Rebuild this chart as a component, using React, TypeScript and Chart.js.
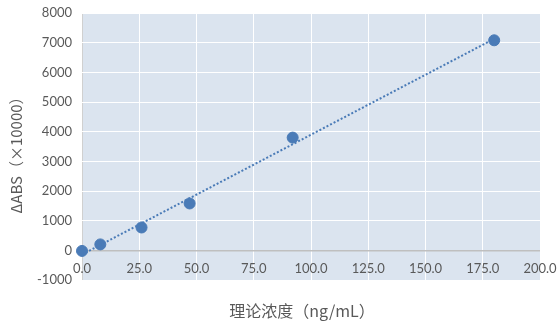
import React, { useEffect, useRef } from "react";
import { Chart, registerables } from "chart.js";
Chart.register(...registerables);

const concentrations = [0, 8, 26, 47, 92, 180];
const absValues = [-20, 200, 770, 1580, 3800, 7080];
const xTitle = "理论浓度（ng/mL）";
const yTitle = "ΔABS（×10000）";

function regression(xs: number[], ys: number[]) {
  const n = xs.length;
  const mx = xs.reduce((a, b) => a + b, 0) / n;
  const my = ys.reduce((a, b) => a + b, 0) / n;
  let sxy = 0, sxx = 0;
  for (let i = 0; i < n; i++) {
    sxy += (xs[i] - mx) * (ys[i] - my);
    sxx += (xs[i] - mx) * (xs[i] - mx);
  }
  const slope = sxy / sxx;
  return { slope, intercept: my - slope * mx };
}

export default function App() {
  const ref = useRef<HTMLCanvasElement>(null);
  useEffect(() => {
    document.body.style.margin = "0";
    const { slope, intercept } = regression(concentrations, absValues);
    const x0 = Math.min(...concentrations);
    const x1 = Math.max(...concentrations);
    const blue = "#4a7bb7";
    const bgPlugin = {
      id: "bg",
      beforeDraw(chart: any) {
        const { ctx, chartArea } = chart;
        ctx.save();
        ctx.fillStyle = "#dbe4ef";
        ctx.fillRect(chartArea.left, chartArea.top, chartArea.right - chartArea.left, chartArea.bottom - chartArea.top);
        ctx.restore();
      },
    };
    const titlesPlugin = {
      id: "titles",
      afterDraw(chart: any) {
        const { ctx, chartArea } = chart;
        ctx.save();
        ctx.fillStyle = "#595959";
        ctx.textAlign = "center";
        ctx.textBaseline = "middle";
        ctx.font = "16px 'Noto Sans CJK SC'";
        ctx.fillText(xTitle, (chartArea.left + chartArea.right) / 2 - 9, chart.height - 11);
        ctx.translate(16, (chartArea.top + chartArea.bottom) / 2 + 5);
        ctx.rotate(-Math.PI / 2);
        ctx.font = "15px 'Noto Sans CJK SC'";
        ctx.fillText(yTitle, 0, 0);
        ctx.restore();
      },
    };
    const chart = new Chart(ref.current!, {
      type: "scatter",
      data: {
        datasets: [
          {
            label: "trend",
            type: "line",
            data: [
              { x: x0, y: slope * x0 + intercept },
              { x: x1, y: slope * x1 + intercept },
            ],
            borderColor: blue,
            borderWidth: 2,
            borderDash: [2, 2],
            pointRadius: 0,
            fill: false,
            clip: false,
          } as any,
          {
            label: "data",
            data: concentrations.map((x, i) => ({ x, y: absValues[i] })),
            backgroundColor: blue,
            borderColor: blue,
            pointRadius: 5.5,
            clip: false,
          } as any,
        ],
      },
      options: {
        animation: false,
        responsive: false,
        layout: { padding: { left: 0, right: 17, top: 13, bottom: 42 } },
        plugins: {
          legend: { display: false },
          tooltip: { enabled: false },
          title: { display: false },
        },
        scales: {
          x: {
            type: "linear",
            position: { y: 0 } as any,
            min: 0,
            max: 200,
            afterFit: (s: any) => { s.paddingRight = 0; s.paddingLeft = 0; },
            ticks: {
              stepSize: 25,
              color: "#595959",
              font: { family: "Lato", size: 13 },
              padding: 11,
              callback: (v: any) => Number(v).toFixed(1),
              maxRotation: 0,
            },
            grid: {
              color: (ctx: any) => (ctx.tick && ctx.tick.value === 0 ? "#d0d0d0" : "#ffffff"),
              lineWidth: 1,
              drawTicks: false,
            },
            border: { display: false },
          },
          y: {
            min: -1000,
            max: 8000,
            afterFit: (s: any) => { s.width = 82; s.paddingTop = 0; s.paddingBottom = 0; },
            ticks: {
              stepSize: 1000,
              color: "#595959",
              font: { family: "Lato", size: 13 },
              padding: 10,
              callback: (v: any) => String(v),
            },
            grid: {
              color: (ctx: any) => (ctx.tick && ctx.tick.value === 0 ? "#bfbfbf" : "#ffffff"),
              lineWidth: (ctx: any) => (ctx.tick && ctx.tick.value === 0 ? 1.5 : 1),
              drawTicks: false,
            },
            border: { display: false },
          },
        },
      },
      plugins: [bgPlugin, titlesPlugin],
    });
    return () => chart.destroy();
  }, []);
  return <canvas ref={ref} width={557} height={322} style={{ display: "block" }} />;
}
